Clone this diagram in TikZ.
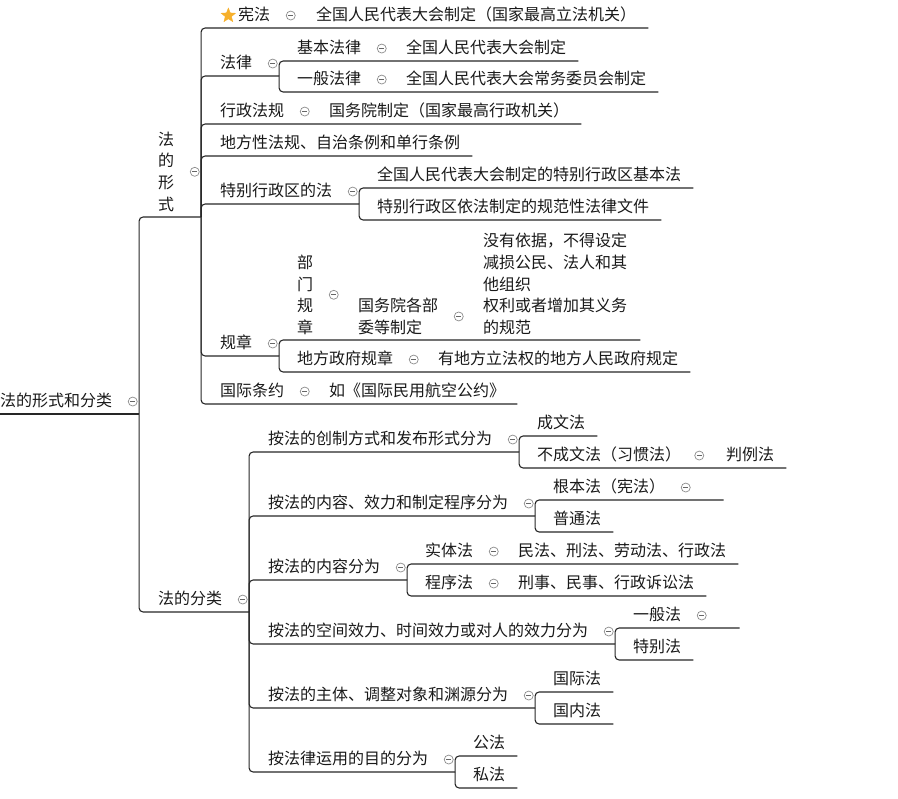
\documentclass[tikz,border=0pt]{standalone}
\usepackage{fontspec}
\setmainfont{Noto Sans CJK SC}
\usepackage{tikz}
\usetikzlibrary{shapes.geometric, positioning, calc}
\definecolor{starcol}{HTML}{F6B02C}

\begin{document}
\begin{tikzpicture}[
    x=1pt, y=-1pt,
    topic/.style={anchor=south west, inner xsep=0pt, inner ysep=6pt, text height=11pt, text depth=1.5pt, text=black!90, font=\fontsize{16}{22}\selectfont},
    mtopic/.style={anchor=south west, inner xsep=0pt, inner ysep=5pt, align=left, text=black!90, font=\fontsize{16}{21.75}\selectfont},
    fold/.style={circle, draw=black!45, fill=white, line width=0.7pt, minimum size=9pt, inner sep=0pt,
        path picture={\draw[black!60, line width=0.7pt] ([xshift=-2.4pt]path picture bounding box.center) -- ([xshift=2.4pt]path picture bounding box.center);}},
    mark star/.style={star, star points=5, star point ratio=2.3, fill=starcol, draw=starcol, minimum size=15pt, inner sep=0pt},
    branch/.style={draw=black!85, line width=1.1pt, rounded corners=4pt}
]
\useasboundingbox (0,0) rectangle (898,799);

% root and first level
\node[topic] (root) at (0,414) {法的形式和分类};
\node[fold, right=15.5pt of root] (root-f) {};
\coordinate (root-fork) at ($(root-f.east |- root.south)+(1.5,0)$);

\node[mtopic] (xingshi) at (158,217) {法\\的\\形\\式};
\node[fold, right=15.5pt of xingshi] (xingshi-f) {};
\coordinate (xingshi-fork) at ($(xingshi-f.east |- xingshi.south)+(1.5,0)$);

\node[topic] (fenlei) at (158,612) {法的分类};
\node[fold, right=15.5pt of fenlei] (fenlei-f) {};
\coordinate (fenlei-fork) at ($(fenlei-f.east |- fenlei.south)+(1.5,0)$);

% forms of law
\node[topic] (xianfa) at (238,28) {宪法};
\node[mark star, left=5pt of xianfa] (xianfa-star) {};
\node[fold, right=15.5pt of xianfa] (xianfa-f) {};
\node[topic] (xianfa-c) at (316,28) {全国人民代表大会制定（国家最高立法机关）};

\node[topic] (falv) at (220,76) {法律};
\node[fold, right=15.5pt of falv] (falv-f) {};
\coordinate (falv-fork) at ($(falv-f.east |- falv.south)+(1.5,0)$);
\node[topic] (jiben) at (297,61) {基本法律};
\node[fold, right=15.5pt of jiben] (jiben-f) {};
\node[topic] (jiben-c) at (406,61) {全国人民代表大会制定};
\node[topic] (yiban) at (297,92) {一般法律};
\node[fold, right=15.5pt of yiban] (yiban-f) {};
\node[topic] (yiban-c) at (406,92) {全国人民代表大会常务委员会制定};

\node[topic] (xingzheng) at (220,124) {行政法规};
\node[fold, right=15.5pt of xingzheng] (xingzheng-f) {};
\node[topic] (xingzheng-c) at (329,124) {国务院制定（国家最高行政机关）};

\node[topic] (difang) at (220,156) {地方性法规、自治条例和单行条例};

\node[topic] (tebie) at (220,204) {特别行政区的法};
\node[fold, right=15.5pt of tebie] (tebie-f) {};
\coordinate (tebie-fork) at ($(tebie-f.east |- tebie.south)+(1.5,0)$);
\node[topic] (tebie-a) at (377,188) {全国人民代表大会制定的特别行政区基本法};
\node[topic] (tebie-b) at (377,220) {特别行政区依法制定的规范性法律文件};

\node[topic] (guizhang) at (220,356) {规章};
\node[fold, right=15.5pt of guizhang] (guizhang-f) {};
\coordinate (guizhang-fork) at ($(guizhang-f.east |- guizhang.south)+(1.5,0)$);
\node[mtopic] (bumen) at (297,340) {部\\门\\规\\章};
\node[fold, right=15.5pt of bumen] (bumen-f) {};
\node[mtopic] (bumen-c) at (358,340) {国务院各部\\委等制定};
\node[fold, right=15.5pt of bumen-c] (bumen-cf) {};
\node[mtopic] (bumen-cc) at (483,340) {没有依据，不得设定\\减损公民、法人和其\\他组织\\权利或者增加其义务\\的规范};
\node[topic] (zhengfu) at (297,372) {地方政府规章};
\node[fold, right=15.5pt of zhengfu] (zhengfu-f) {};
\node[topic] (zhengfu-c) at (438,372) {有地方立法权的地方人民政府规定};

\node[topic] (tiaoyue) at (220,404) {国际条约};
\node[fold, right=15.5pt of tiaoyue] (tiaoyue-f) {};
\node[topic] (tiaoyue-c) at (329,404) {如《国际民用航空公约》};

% classification of law
\node[topic] (chuangzhi) at (268,452) {按法的创制方式和发布形式分为};
\node[fold, right=15.5pt of chuangzhi] (chuangzhi-f) {};
\coordinate (chuangzhi-fork) at ($(chuangzhi-f.east |- chuangzhi.south)+(1.5,0)$);
\node[topic] (chengwen) at (537,436) {成文法};
\node[topic] (buchengwen) at (537,468) {不成文法（习惯法）};
\node[fold, right=13pt of buchengwen] (buchengwen-f) {};
\node[topic] (panli) at (726,468) {判例法};

\node[topic] (xiaoli) at (268,516) {按法的内容、效力和制定程序分为};
\node[fold, right=15.5pt of xiaoli] (xiaoli-f) {};
\coordinate (xiaoli-fork) at ($(xiaoli-f.east |- xiaoli.south)+(1.5,0)$);
\node[topic] (genben) at (553,500) {根本法（宪法）};
\node[fold, right=15.5pt of genben] (genben-f) {};
\coordinate (genben-end) at ($(genben-f.east |- genben.south)+(33,0)$);
\node[topic] (putong) at (553,532) {普通法};

\node[topic] (neirong) at (268,580) {按法的内容分为};
\node[fold, right=15.5pt of neirong] (neirong-f) {};
\coordinate (neirong-fork) at ($(neirong-f.east |- neirong.south)+(1.5,0)$);
\node[topic] (shiti) at (425,564) {实体法};
\node[fold, right=15.5pt of shiti] (shiti-f) {};
\node[topic] (shiti-c) at (518,564) {民法、刑法、劳动法、行政法};
\node[topic] (chengxu) at (425,596) {程序法};
\node[fold, right=15.5pt of chengxu] (chengxu-f) {};
\node[topic] (chengxu-c) at (518,596) {刑事、民事、行政诉讼法};

\node[topic] (kongjian) at (268,644) {按法的空间效力、时间效力或对人的效力分为};
\node[fold, right=15.5pt of kongjian] (kongjian-f) {};
\coordinate (kongjian-fork) at ($(kongjian-f.east |- kongjian.south)+(1.5,0)$);
\node[topic] (yibanfa) at (633,628) {一般法};
\node[fold, right=15.5pt of yibanfa] (yibanfa-f) {};
\coordinate (yibanfa-end) at ($(yibanfa-f.east |- yibanfa.south)+(33,0)$);
\node[topic] (tebiefa) at (633,660) {特别法};

\node[topic] (zhuti) at (268,708) {按法的主体、调整对象和渊源分为};
\node[fold, right=15.5pt of zhuti] (zhuti-f) {};
\coordinate (zhuti-fork) at ($(zhuti-f.east |- zhuti.south)+(1.5,0)$);
\node[topic] (guojifa) at (553,692) {国际法};
\node[topic] (guoneifa) at (553,724) {国内法};

\node[topic] (mudi) at (268,772) {按法律运用的目的分为};
\node[fold, right=15.5pt of mudi] (mudi-f) {};
\coordinate (mudi-fork) at ($(mudi-f.east |- mudi.south)+(1.5,0)$);
\node[topic] (gongfa) at (473,756) {公法};
\node[topic] (sifa) at (473,788) {私法};

% branches
\draw[branch] (root.south west) -- (root-fork);
\draw[branch] (root-fork) |- (xingshi-fork);
\draw[branch] (root-fork) |- (fenlei-fork);

\draw[branch] (xingshi-fork) |- ($(xianfa-c.south east)+(12,0)$);
\draw[branch] (xingshi-fork) |- (falv-fork);
\draw[branch] (falv-fork) |- ($(jiben-c.south east)+(12,0)$);
\draw[branch] (falv-fork) |- ($(yiban-c.south east)+(12,0)$);
\draw[branch] (xingshi-fork) |- ($(xingzheng-c.south east)+(12,0)$);
\draw[branch] (xingshi-fork) |- ($(difang.south east)+(12,0)$);
\draw[branch] (xingshi-fork) |- (tebie-fork);
\draw[branch] (tebie-fork) |- ($(tebie-a.south east)+(12,0)$);
\draw[branch] (tebie-fork) |- ($(tebie-b.south east)+(12,0)$);
\draw[branch] (xingshi-fork) |- (guizhang-fork);
\draw[branch] (guizhang-fork) |- ($(bumen-cc.south east)+(13,0)$);
\draw[branch] (guizhang-fork) |- ($(zhengfu-c.south east)+(12,0)$);
\draw[branch] (xingshi-fork) |- ($(tiaoyue-c.south east)+(12,0)$);

\draw[branch] (fenlei-fork) |- (chuangzhi-fork);
\draw[branch] (chuangzhi-fork) |- ($(chengwen.south east)+(12,0)$);
\draw[branch] (chuangzhi-fork) |- ($(panli.south east)+(12,0)$);
\draw[branch] (fenlei-fork) |- (xiaoli-fork);
\draw[branch] (xiaoli-fork) |- (genben-end);
\draw[branch] (xiaoli-fork) |- ($(putong.south east)+(12,0)$);
\draw[branch] (fenlei-fork) |- (neirong-fork);
\draw[branch] (neirong-fork) |- ($(shiti-c.south east)+(12,0)$);
\draw[branch] (neirong-fork) |- ($(chengxu-c.south east)+(12,0)$);
\draw[branch] (fenlei-fork) |- (kongjian-fork);
\draw[branch] (kongjian-fork) |- (yibanfa-end);
\draw[branch] (kongjian-fork) |- ($(tebiefa.south east)+(12,0)$);
\draw[branch] (fenlei-fork) |- (zhuti-fork);
\draw[branch] (zhuti-fork) |- ($(guojifa.south east)+(12,0)$);
\draw[branch] (zhuti-fork) |- ($(guoneifa.south east)+(12,0)$);
\draw[branch] (fenlei-fork) |- (mudi-fork);
\draw[branch] (mudi-fork) |- ($(gongfa.south east)+(12,0)$);
\draw[branch] (mudi-fork) |- ($(sifa.south east)+(12,0)$);
\end{tikzpicture}
\end{document}
